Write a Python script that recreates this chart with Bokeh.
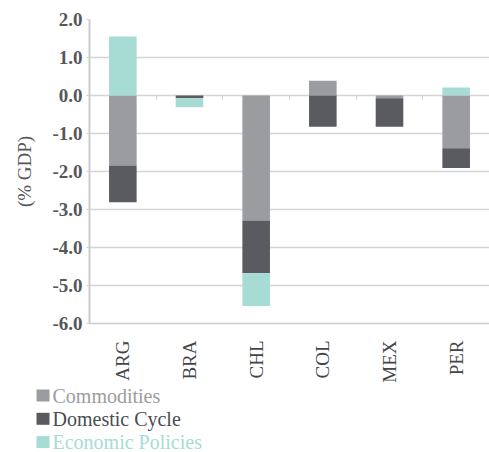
import numpy as np
from bokeh.plotting import figure
from bokeh.layouts import column
from bokeh.core.properties import value
from bokeh.models import (Range1d, FixedTicker, LinearAxis, ColumnDataSource,
                          NumeralTickFormatter, CustomJSTickFormatter)
from bokeh.embed import file_html
from bokeh.resources import INLINE

countries = ["ARG", "BRA", "CHL", "COL", "MEX", "PER"]
commodities = [-1.84, 0.0, -3.29, 0.39, -0.07, -1.39]
domestic_cycle = [-0.97, -0.07, -1.39, -0.82, -0.75, -0.52]
economic_policies = [1.55, -0.24, -0.86, 0.0, 0.0, 0.21]
series_names = ["Commodities", "Domestic Cycle", "Economic Policies"]
bar_colors = ["#9b9ca0", "#5a5b60", "#a7dcd5"]
legend_text_colors = ["#9b9ca0", "#4b4c51", "#a7dcd5"]
y_ticks = [-6, -5, -4, -3, -2, -1, 0, 1, 2]

FONT = "Liberation Serif"
W = 489
LEFT = 89

n = len(countries)
centers = np.arange(n) + 0.5
boundaries = list(np.arange(1, n))

p = figure(width=W, height=385, output_backend="svg", toolbar_location=None,
           x_range=Range1d(0, n), y_range=Range1d(y_ticks[0], y_ticks[-1]),
           min_border_left=LEFT, min_border_right=0, min_border_top=19,
           min_border_bottom=62)
p.outline_line_color = None
p.xgrid.grid_line_color = None
p.ygrid.ticker = FixedTicker(ticks=y_ticks)
p.ygrid.grid_line_color = "#d4d4d4"
p.ygrid.grid_line_width = 1.5

pos_base = np.zeros(n)
neg_base = np.zeros(n)
for vals, color in zip([commodities, domestic_cycle, economic_policies], bar_colors):
    v = np.array(vals, dtype=float)
    bottom = np.where(v >= 0, pos_base, neg_base)
    top = bottom + v
    pos_base = np.where(v >= 0, top, pos_base)
    neg_base = np.where(v < 0, top, neg_base)
    src = ColumnDataSource(dict(x=centers, top=top, bottom=bottom))
    p.vbar(x="x", top="top", bottom="bottom", width=0.414, source=src,
           fill_color=color, line_color=None)

# y axis
p.yaxis.ticker = FixedTicker(ticks=y_ticks)
p.yaxis.formatter = NumeralTickFormatter(format="0.0")
p.yaxis.axis_line_color = "#cccccc"
p.yaxis.axis_line_width = 2
p.yaxis.major_tick_line_color = "#cccccc"
p.yaxis.major_tick_out = 3
p.yaxis.major_tick_in = 0
p.yaxis.minor_tick_line_color = None
p.yaxis.minor_tick_out = 0
p.yaxis.major_label_text_font = FONT
p.yaxis.major_label_text_font_style = "bold"
p.yaxis.major_label_text_font_size = "19px"
p.yaxis.major_label_text_color = "#55575b"
p.yaxis.major_label_standoff = 4
p.yaxis.axis_label = "(% GDP)"
p.yaxis.axis_label_text_font = FONT
p.yaxis.axis_label_text_font_style = "normal"
p.yaxis.axis_label_text_font_size = "19px"
p.yaxis.axis_label_text_color = "#55575b"
p.yaxis.axis_label_standoff = 14

# x axis (category labels)
p.xaxis.ticker = FixedTicker(ticks=list(centers))
p.xaxis.major_label_overrides = {float(c): name for c, name in zip(centers, countries)}
p.xaxis.major_label_orientation = np.pi / 2
p.xaxis.major_label_text_font = FONT
p.xaxis.major_label_text_font_size = "19px"
p.xaxis.major_label_text_color = "#444549"
p.xaxis.major_label_standoff = 17
p.xaxis.major_tick_line_color = None
p.xaxis.major_tick_out = 0
p.xaxis.major_tick_in = 0
p.xaxis.minor_tick_line_color = None
p.xaxis.minor_tick_out = 0
p.xaxis.minor_tick_in = 0
p.xaxis.axis_line_color = "#cccccc"
p.xaxis.axis_line_width = 1.5

# small ticks on the zero line between categories
zero_axis = LinearAxis(fixed_location=0, ticker=FixedTicker(ticks=boundaries),
                       formatter=CustomJSTickFormatter(code="return ''"),
                       axis_line_color=None, major_tick_out=4, major_tick_in=0,
                       major_tick_line_color="#cccccc", minor_tick_line_color=None)
p.add_layout(zero_axis, "below")

# legend panel below the chart (swatches + texts, in page-pixel coordinates)
LEG_H = 67
lp = figure(width=W, height=LEG_H, output_backend="svg", toolbar_location=None,
            x_range=Range1d(LEFT, W), y_range=Range1d(LEG_H, 0),
            x_axis_type=None, y_axis_type=None,
            min_border_left=LEFT, min_border_right=0, min_border_top=0,
            min_border_bottom=0)
lp.outline_line_color = None
lp.grid.visible = False

leg_x0 = 36
leg_row0 = 10
leg_gap = 23.3
rows = [leg_row0 + i * leg_gap for i in range(len(series_names))]
leg_src = ColumnDataSource(dict(
    sx=[leg_x0 + 6.5] * len(rows), tx=[leg_x0 + 16] * len(rows), y=rows,
    label=series_names, color=bar_colors, tcolor=legend_text_colors))
r1 = lp.rect(x="sx", y="y", width=13, height=12, width_units="screen",
             height_units="screen", fill_color="color", line_color=None, source=leg_src)
r2 = lp.text(x="tx", y="y", text="label", text_color="tcolor", source=leg_src,
             text_font=value(FONT), text_font_size="20px", text_baseline="middle",
             text_align="left")
r1.level = "overlay"
r2.level = "overlay"

layout = column(p, lp, spacing=0)
open("out.html", "w").write(file_html(layout, INLINE))
